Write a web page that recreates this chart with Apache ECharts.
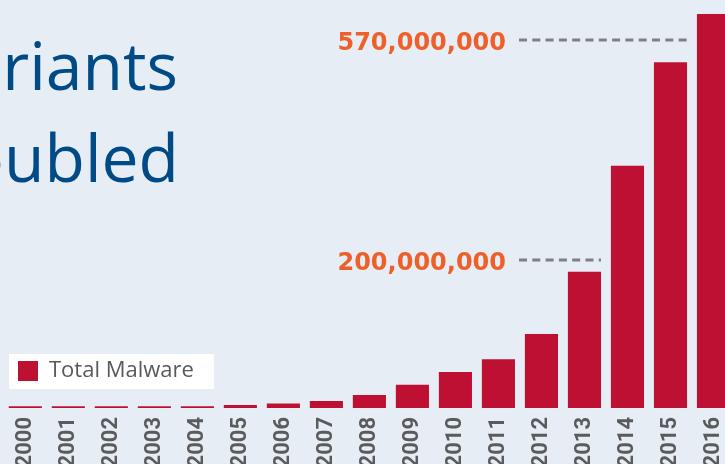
<!DOCTYPE html>
<html>
<head>
<meta charset="utf-8">
<script src="https://cdn.jsdelivr.net/npm/echarts@6/dist/echarts.min.js"></script>
<style>
html,body{margin:0;padding:0;background:#e6edf4;}
#chart{width:725px;height:464px;}
</style>
</head>
<body>
<div id="chart"></div>
<script>
// Data (millions of samples)
var years = ['2000','2001','2002','2003','2004','2005','2006','2007','2008','2009','2010','2011','2012','2013','2014','2015','2016'];
var totalMalware = [2.3, 2.3, 2.3, 2.3, 2.3, 4, 6, 9.5, 17.5, 31.5, 48.6, 66, 100, 184, 327, 467, 532];
var seriesName = 'Total Malware';
var titleLines = ['Variants', 'Doubled'];
var annotations = ['570,000,000', '200,000,000'];

var chart = echarts.init(document.getElementById('chart'), null, {renderer: 'canvas'});
var option = {
  backgroundColor: '#e6edf4',
  animation: false,
  grid: {left: 3.8, top: 0, height: 408, width: 731.2, containLabel: false, outerBoundsMode: 'none'},
  legend: {
    data: [seriesName],
    left: 9, top: 354,
    backgroundColor: '#ffffff',
    padding: [6, 20, 7, 9],
    itemWidth: 20, itemHeight: 20, itemGap: 10,
    icon: 'rect',
    textStyle: {color: '#58595b', fontSize: 22, fontFamily: 'Open Sans', padding: [0,0,0,6]}
  },
  xAxis: {
    type: 'category',
    data: years,
    axisLine: {show: false},
    axisTick: {show: false},
    axisLabel: {
      rotate: 90, margin: 9, interval: 0,
      color: '#5a5b5d', fontSize: 22, fontFamily: '"Liberation Sans Narrow", Roboto', fontWeight: 'bold'
    }
  },
  yAxis: {
    type: 'value', min: 0, max: 551,
    show: false
  },
  series: [{
    name: seriesName,
    type: 'bar',
    data: totalMalware,
    barCategoryGap: '23%',
    itemStyle: {color: '#be1032'}
  }],
  graphic: [
    {type: 'text', right: 725 - 178, top: 38,
     style: {text: titleLines[0], font: '66px "Open Sans"', fill: '#004a86', textAlign: 'right'}},
    {type: 'text', right: 725 - 179, top: 130,
     style: {text: titleLines[1], font: '66px "Open Sans"', fill: '#004a86', textAlign: 'right'}},
    {type: 'text', right: 725 - 506, top: 32,
     style: {text: annotations[0], font: 'bold 24px "DejaVu Sans"', fill: '#ee5f29'}},
    {type: 'text', right: 725 - 506, top: 252,
     style: {text: annotations[1], font: 'bold 24px "DejaVu Sans"', fill: '#ee5f29'}},
    {type: 'line', shape: {x1: 519, y1: 40, x2: 687, y2: 40},
     style: {stroke: '#7f8083', lineWidth: 3, lineDash: [8, 5.3]}},
    {type: 'line', shape: {x1: 519, y1: 260, x2: 601, y2: 260},
     style: {stroke: '#7f8083', lineWidth: 3, lineDash: [8, 5.3]}}
  ]
};
chart.setOption(option);
</script>
</body>
</html>
